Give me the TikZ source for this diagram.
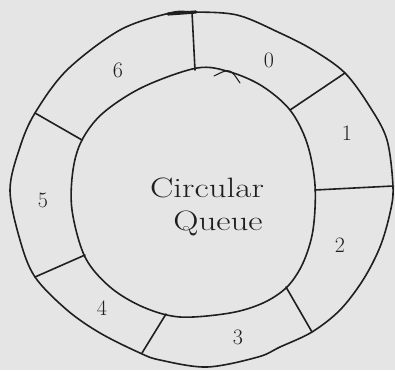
\documentclass[tikz,border=0pt]{standalone}
\begin{document}
\begin{tikzpicture}[x=1pt,y=-1pt,
  ink/.style={draw=black!88, line width=1.6pt, line cap=round, line join=round},
  digit/.style={font=\fontsize{22}{24}\selectfont, text=black!88, inner sep=0pt},
  label/.style={font=\fontsize{28}{30}\selectfont, text=black!88, inner sep=0pt, anchor=base}]
\fill[black!10] (0,0) rectangle (395,370);
\useasboundingbox (0,0) rectangle (395,370);
% outer ring
\draw[ink] plot[smooth cycle, tension=0.55] coordinates {
 (192,12) (237,15) (280,33) (313,50) (345,73) (370,107) (387,140) (393,187)
 (390,213) (380,247) (363,280) (340,310) (312,332) (280,347) (258,357)
 (207,367) (160,360) (140,353) (100,333) (67,310) (35,277) (20,240)
 (10,190) (20,147) (35,113) (67,70) (120,30) (170,13)};
\draw[black!88, line width=3.2pt, line cap=round] (168,14) -- (196,12);
% inner circle
\draw[ink] plot[smooth cycle, tension=0.55] coordinates {
 (197,68) (230,72) (262,86) (290,110) (307,143) (315,185) (313,230)
 (303,263) (287,287) (263,303) (230,313) (180,317) (143,307) (110,287)
 (85,257) (72,210) (73,170) (82,140) (103,113) (143,87)};
\draw[black!88, line width=1.1pt, line cap=round] (214,76) .. controls (230,68) .. (240,83);
% divider end points
\coordinate (o60) at (192,12);  \coordinate (i60) at (195,70);
\coordinate (o01) at (345,73);  \coordinate (i01) at (290,110);
\coordinate (o12) at (393,186); \coordinate (i12) at (315,190);
\coordinate (o23) at (312,332); \coordinate (i23) at (286,287);
\coordinate (o34) at (142,353); \coordinate (i34) at (166,314);
\coordinate (o45) at (35,277);  \coordinate (i45) at (85,255);
\coordinate (o56) at (35,113);  \coordinate (i56) at (82,140);
\foreach \a in {60,01,12,23,34,45,56} \draw[ink] (o\a) -- (i\a);
% slot labels
\node[digit] (s0) at (269,60) {0};
\node[digit] (s1) at (347,133) {1};
\node[digit] (s2) at (340,245) {2};
\node[digit] (s3) at (238,337) {3};
\node[digit] (s4) at (102,308) {4};
\node[digit] (s5) at (43,200) {5};
\node[digit] (s6) at (118,70) {6};
% centre text
\node[label] (t1) at (207,197) {\scalebox{1.25}[1]{Circular}};
\node[label] (t2) at (218,230) {\scalebox{1.25}[1]{Queue}};
\end{tikzpicture}
\end{document}
